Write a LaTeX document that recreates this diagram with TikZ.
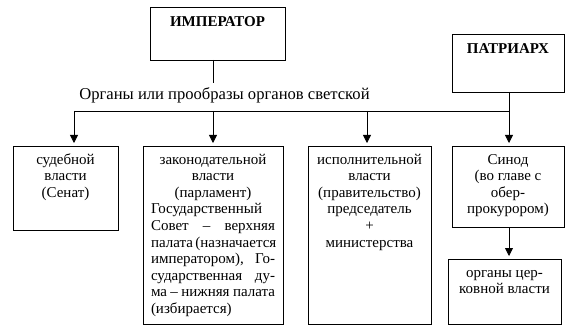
\documentclass[tikz,border=0pt]{standalone}
\usepackage{fontspec}
\setmainfont{Liberation Serif}
\usetikzlibrary{arrows.meta}
\newcommand{\bxt}[4]{\parbox[b][#2][t]{#1}{\centering\rule{0pt}{#3}#4}}
\newcommand{\jstline}[1]{\makebox[124pt][s]{#1}}
\newcommand{\lftline}[1]{\makebox[124pt][l]{#1}}
\begin{document}
\begin{tikzpicture}[x=1pt,y=-1pt,
  box/.style={draw, line width=0.8pt, inner sep=0pt, outer sep=0pt, anchor=north west,
    font=\fontsize{15}{16.6}\selectfont},
  hbox/.style={box, font=\fontsize{15}{16.6}\selectfont\bfseries},
  ln/.style={line width=0.8pt},
  arr/.style={ln, -{Triangle[width=8pt,length=8pt]}, shorten >=3pt}]
\useasboundingbox (0,0) rectangle (576,334);
% headers
\node[hbox] (imp) at (150,7) {\bxt{135pt}{53pt}{19.5pt}{ИМПЕРАТОР}};
\node[hbox] (pat) at (452,34) {\bxt{112pt}{58pt}{19.3pt}{ПАТРИАРХ}};
% label
\node[font=\fontsize{16.6}{18}\selectfont, inner sep=0pt, anchor=base] (lbl) at (224.5,99.5) {Органы или прообразы органов светской};
% boxes
\node[box] (b1) at (13,146) {\bxt{105pt}{84pt}{18pt}{судебной\\власти\\(Сенат)}};
\node[box] (b2) at (143,146) {\bxt{140pt}{178pt}{18pt}{законодательной\\власти\\(парламент)\par
  \lftline{Государственный}\par
  \jstline{Совет \ – \ верхняя}\par
  \jstline{палата (назначается}\par
  \jstline{императором), \ Го-}\par
  \jstline{сударственная \ ду-}\par
  \jstline{ма – нижняя палата}\par
  \lftline{(избирается)}}};
\node[box] (b3) at (308,146) {\bxt{123pt}{178pt}{18pt}{исполнительной\\власти\\(правительство)\\председатель\\+\\министерства}};
\node[box] (b4) at (452,146) {\bxt{112pt}{81pt}{18pt}{Синод\\(во главе с\\обер-\\прокурором)}};
\node[box] (b5) at (448,259) {\bxt{113pt}{65pt}{18pt}{органы цер-\\ковной власти}};
% junctions
\coordinate (j1) at (74,111);
\coordinate (j2) at (213,111);
\coordinate (j3) at (367,111);
\coordinate (j4) at (509,111);
\coordinate (t2) at (213,83);
\draw[ln] (imp.south -| j2) -- (t2);
\draw[ln] (pat.south -| j4) -- (j4);
\draw[ln] (j1) -- (j4);
\draw[arr] (j1) -- (b1.north -| j1);
\draw[arr] (j2) -- (b2.north -| j2);
\draw[arr] (j3) -- (b3.north -| j3);
\draw[arr] (j4) -- (b4.north -| j4);
\draw[arr] (b4.south -| j4) -- (b5.north -| j4);
\end{tikzpicture}
\end{document}
